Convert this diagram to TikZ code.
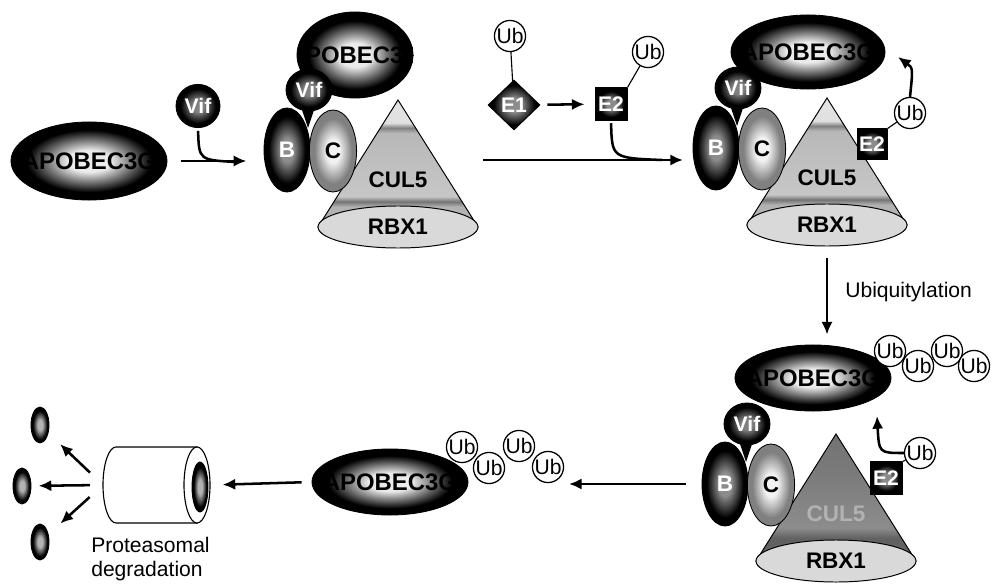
\documentclass[tikz,border=0pt]{standalone}
\usepackage{fontspec}
\setmainfont{Liberation Sans}
\usepackage{tikz}
\usetikzlibrary{arrows.meta,shapes.geometric}

% colours for the molecule shading, changed per node
\colorlet{blobin}{black!20}
\colorlet{blobout}{black}
\pgfdeclareradialshading[blobin,blobout]{blob}{\pgfpoint{0bp}{0bp}}{%
  color(0bp)=(blobin); color(7bp)=(blobin); color(20bp)=(blobout); color(50bp)=(blobout)}
\pgfdeclareverticalshading{conelight}{100bp}{%
  color(0bp)=(black!30); color(33bp)=(black!30); color(35bp)=(black!55);
  color(37bp)=(black!22); color(62bp)=(black!28); color(64bp)=(black!50);
  color(66bp)=(black!12); color(100bp)=(black!8)}
\pgfdeclareverticalshading{conedark}{100bp}{%
  color(0bp)=(black!55); color(34bp)=(black!62); color(38bp)=(black!45);
  color(60bp)=(black!52); color(100bp)=(black!60)}

\tikzset{
  tint/.code 2 args={\colorlet{blobin}{#1}\colorlet{blobout}{#2}},
  blobby/.style={shade, shading=blob, draw=black, line width=0.6pt, inner sep=0pt},
  lbl/.style={font=\fontsize{16}{16}\selectfont\bfseries, inner sep=0pt},
  apo/.style={blobby, ellipse, tint={black!8}{black},
    path picture={\node[lbl, font=\fontsize{17}{17}\selectfont\bfseries]
      at (path picture bounding box.center) {APOBEC3G};}},
  vif/.style={blobby, ellipse, tint={black!50}{black}, minimum width=1.15cm, minimum height=1.05cm, lbl,
    text=white, font=\fontsize{15}{15}\selectfont\bfseries},
  bsub/.style={blobby, ellipse, tint={black!45}{black}, minimum width=1.15cm, minimum height=2.1cm, lbl, text=white},
  csub/.style={blobby, ellipse, tint={black!5}{black!50}, minimum width=1.18cm, minimum height=2.05cm, lbl},
  base/.style={ellipse, draw=black, line width=0.7pt, fill=black!15, minimum width=4cm, minimum height=1.05cm, lbl},
  enz/.style={blobby, tint={black!45}{black}, lbl, text=white, font=\fontsize{15}{15}\selectfont\bfseries},
  ub/.style={circle, draw=black, line width=0.9pt, fill=white, minimum size=0.76cm, inner sep=0pt,
    font=\fontsize{15}{15}\selectfont},
  frag/.style={blobby, ellipse, tint={black!30}{black}, minimum width=0.45cm, minimum height=0.9cm},
  flow/.style={line width=1.8pt, -{Latex[length=9pt,width=8pt]}},
  feed/.style={line width=1.8pt},
  link/.style={line width=0.8pt},
  note/.style={font=\fontsize{15}{17}\selectfont, inner sep=0pt}
}

% E3 ligase: CUL5 cone on RBX1, elongin B and C, Vif
\newcommand{\ligase}[4]{%
  \begin{scope}[shift={#2}]
    \shadedraw[shading=#3, line width=0.7pt] (0,0) -- (-80,127) -- (80,127) -- cycle;
    \node[base] (#1-rbx) at (0,127) {RBX1};
    \node[lbl, text=#4] (#1-cul) at (0,80) {CUL5};
    \fill (-96,10) -- (-84,10) -- (-90,28) -- cycle;
    \node[bsub] (#1-b) at (-111,50) {B};
    \node[csub] (#1-c) at (-65,51) {C};
    \node[vif] (#1-vif) at (-89,-10) {Vif};
  \end{scope}}

\begin{document}
\begin{tikzpicture}[x=0.025cm, y=-0.025cm]
  \useasboundingbox (0,0) rectangle (992,584);

  % Vif binds APOBEC3G
  \node[apo, minimum width=3.9cm, minimum height=1.95cm] (apo1) at (89,161) {};
  \node[vif, minimum width=1.1cm, minimum height=1.08cm] (vif1) at (198,106) {Vif};
  \node[apo, minimum width=2.9cm, minimum height=2.15cm] (apo2) at (355,55) {};
  \ligase{m}{(398,100)}{conelight}{black}
  \coordinate (j1) at (236,162);
  \draw[flow, shorten <=0.33cm, shorten >=0.43cm] (apo1.east) -- (apo1.east -| m-b.west);
  \draw[feed, shorten <=2pt] (vif1.south) .. controls (199,160) .. (j1);

  % E1 / E2 charging
  \node[ub] (ub1) at (510,36) {Ub};
  \node[enz, diamond, minimum width=1.3cm, minimum height=1.25cm] (e1) at (514,105) {E1};
  \draw[link] (ub1) -- (e1);
  \node[enz, minimum size=0.8cm] (e2) at (611,104) {E2};
  \node[ub] (ub2) at (648,52) {Ub};
  \draw[link] (e2.north east) -- (ub2);
  \draw[flow, shorten <=0.18cm, shorten >=0.25cm] (e1) -- (e2);
  \coordinate (a2s) at (483,160);
  \coordinate (a2e) at (683,160);
  \coordinate (j2) at (662,160);
  \draw[flow] (a2s) -- (a2e);
  \draw[feed, shorten <=2pt] (e2.south) .. controls (612,158) .. (j2);

  % complex with E2 loaded
  \node[apo, minimum width=3.85cm, minimum height=1.85cm] (apo3) at (808,52) {};
  \ligase{r}{(827,98)}{conelight}{black}
  \node[enz, minimum size=0.75cm] (e2b) at (872,144) {E2};
  \node[ub] (ub3) at (910,113) {Ub};
  \draw[link] (e2b.north east) -- (ub3);
  \coordinate (t3) at (898,57);
  \draw[flow] (ub3.north) .. controls (913,68) .. (t3);

  % polyubiquitylated complex
  \node[apo, minimum width=3.9cm, minimum height=1.65cm] (apo4) at (813,378) {};
  \foreach \n/\p in {1/{(890,351)},2/{(918,366)},3/{(947,351)},4/{(974,366)}}
    \node[ub] (c\n) at \p {Ub};
  \ligase{b}{(836,434)}{conedark}{black!30}
  \node[enz, minimum size=0.8cm] (e2c) at (886,478) {E2};
  \node[ub] (ub5) at (920,453) {Ub};
  \draw[link] (e2c.north east) -- (ub5);
  \coordinate (t5) at (877,416);
  \draw[flow] (ub5.west) .. controls (879,453) .. (t5);
  \draw[flow, shorten <=0.28cm, shorten >=0.25cm] (r-rbx.south) -- (r-rbx.south |- apo4.north);
  \node[note, anchor=base west] (ubq) at (845,297) {Ubiquitylation};

  % released substrate
  \node[apo, minimum width=3.9cm, minimum height=1.65cm] (apo5) at (390,482) {};
  \foreach \n/\p in {1/{(462,447)},2/{(489,468)},3/{(519,446)},4/{(548,467)}}
    \node[ub] (d\n) at \p {Ub};
  \draw[flow, shorten <=0.38cm, shorten >=0.12cm] (b-b.west) -- (b-b.west -| d4.east);

  % proteasome
  \draw[line width=0.8pt, fill=white] (197,447) -- (116,447)
    arc[start angle=270, end angle=90, x radius=13, y radius=38] -- (197,523) -- cycle;
  \node[ellipse, draw, line width=0.8pt, fill=white, minimum width=0.65cm, minimum height=1.9cm] (face) at (197,485) {};
  \node[frag, minimum width=0.4cm, minimum height=1.25cm] (core) at (200,487) {};
  \coordinate (cyl) at (103,485);
  \draw[flow, shorten <=0.25cm, shorten >=0.3cm] (apo5.west) -- (face.east);

  % peptides
  \node[frag] (f1) at (40,425) {};
  \node[frag] (f2) at (22,486) {};
  \node[frag] (f3) at (40,542) {};
  \draw[flow, shorten <=0.45cm, shorten >=0.4cm] (cyl) -- (f1);
  \draw[flow, shorten <=0.33cm, shorten >=0.18cm] (cyl) -- (f2);
  \draw[flow, shorten <=0.45cm, shorten >=0.4cm] (cyl) -- (f3);
  \node[note, anchor=north west, align=left] (deg) at (91,537) {Proteasomal\\degradation};
\end{tikzpicture}
\end{document}
